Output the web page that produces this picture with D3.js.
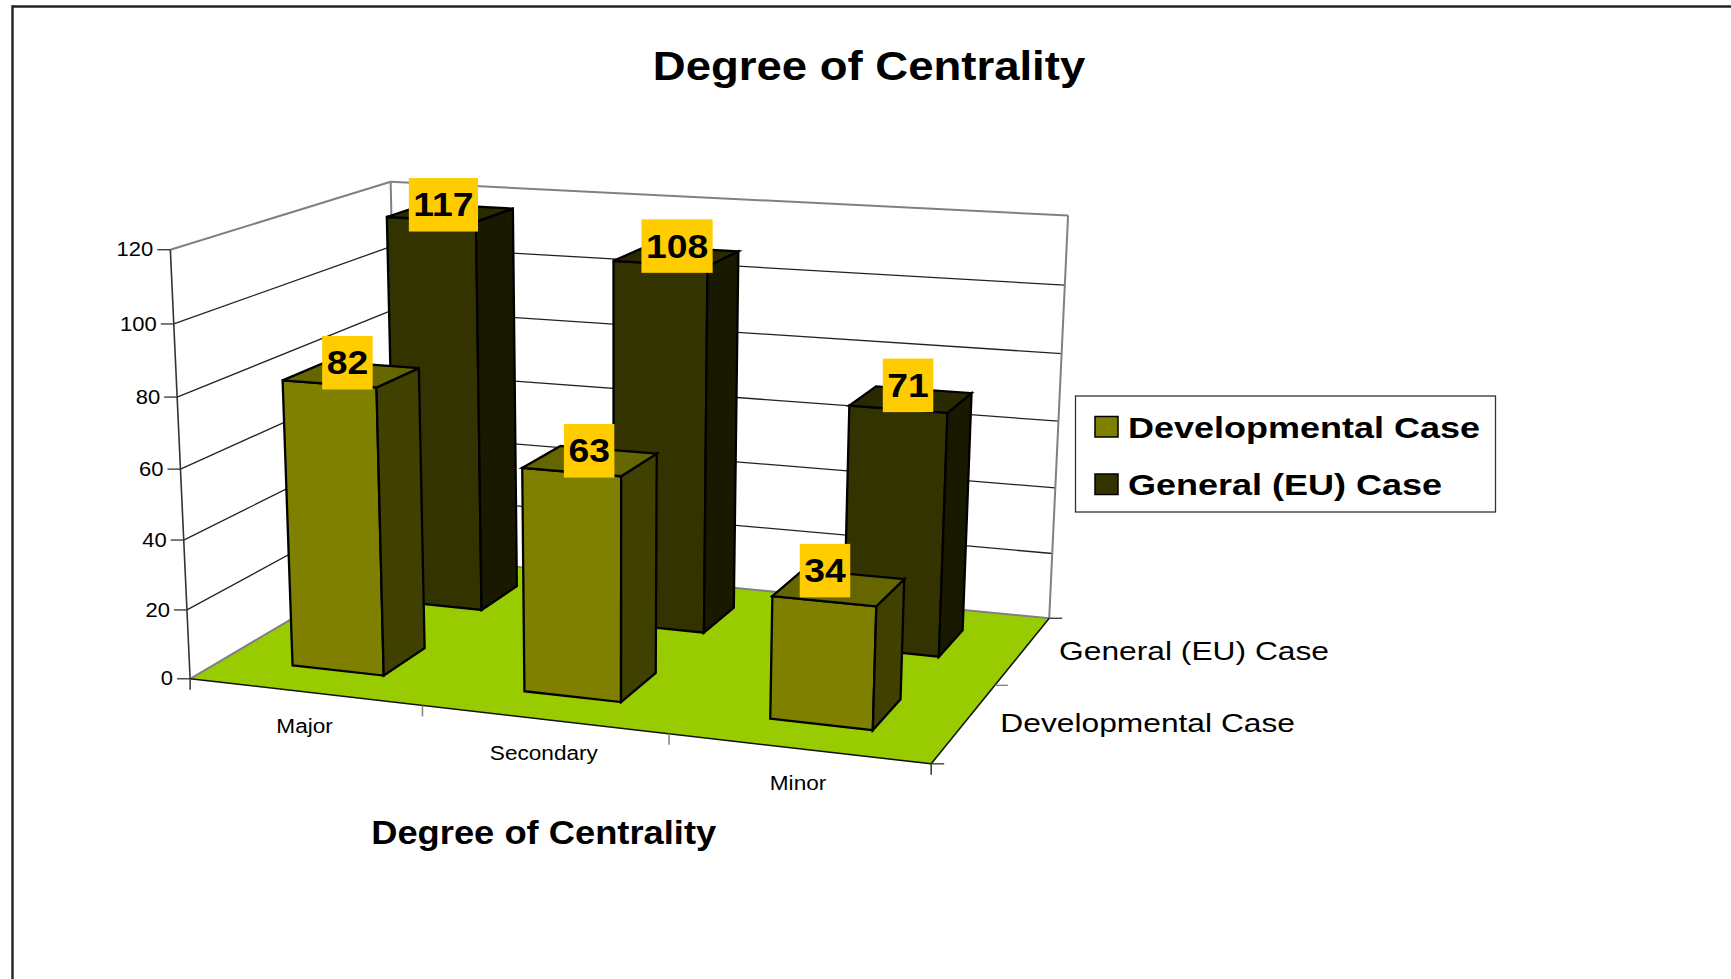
<!DOCTYPE html>
<html lang="en">
    <head>
        <meta charset="utf-8">
        <title>Degree of Centrality</title>
        <script type="text/javascript" src="https://cdnjs.cloudflare.com/ajax/libs/d3/7.8.5/d3.min.js"></script>
        <style type="text/css">
            body { margin: 0; background: #fff; }
            text { font-family: "Liberation Sans", Arial, sans-serif; fill: #000; }
        </style>
    </head>
    <body>
        <script type="text/javascript">
            var categories = ["Major", "Secondary", "Minor"];
            var seriesNames = ["Developmental Case", "General (EU) Case"];
            var developmental = [82, 63, 34];
            var general = [117, 108, 71];
            var valueTicks = [0, 20, 40, 60, 80, 100, 120];
            var titleText = "Degree of Centrality";

            var w = 1731;
            var h = 979;

            // corners of the plot box on the page: [u, v, w, x, y]
            var anchors = [
                [0, 0, 0, 190.7, 679],
                [1, 0, 0, 930.9, 764],
                [1, 1, 0, 1049.5, 618],
                [0, 1, 0, 398.7, 555.5],
                [0, 0, 1, 170, 249.3],
                [0, 1, 1, 391, 182],
                [1, 1, 1, 1068, 215.7]
            ];

            // fit a perspective matrix to the corners (least squares)
            function fitCamera(pts) {
                var rows = [], rhs = [];
                pts.forEach(function(p) {
                    var x = p[3] / 1000, y = p[4] / 1000;
                    rows.push([p[0], p[1], p[2], 1, 0, 0, 0, 0, -x * p[0], -x * p[1], -x * p[2]]);
                    rhs.push(x);
                    rows.push([0, 0, 0, 0, p[0], p[1], p[2], 1, -y * p[0], -y * p[1], -y * p[2]]);
                    rhs.push(y);
                });
                var n = 11, m = [];
                for (var i = 0; i < n; i++) {
                    m.push(new Array(n + 1).fill(0));
                    for (var j = 0; j < n; j++) {
                        rows.forEach(function(r) { m[i][j] += r[i] * r[j]; });
                    }
                    rows.forEach(function(r, k) { m[i][n] += r[i] * rhs[k]; });
                }
                for (var c = 0; c < n; c++) {
                    var best = c;
                    for (var r = c + 1; r < n; r++) {
                        if (Math.abs(m[r][c]) > Math.abs(m[best][c])) best = r;
                    }
                    var t = m[c]; m[c] = m[best]; m[best] = t;
                    for (var r2 = 0; r2 < n; r2++) {
                        if (r2 === c) continue;
                        var f = m[r2][c] / m[c][c];
                        for (var k2 = c; k2 <= n; k2++) m[r2][k2] -= f * m[c][k2];
                    }
                }
                return m.map(function(row, i) { return row[n] / row[i]; });
            }

            var cam = fitCamera(anchors);

            function project(u, v, z) {
                var d = cam[8] * u + cam[9] * v + cam[10] * z + 1;
                return [
                    1000 * (cam[0] * u + cam[1] * v + cam[2] * z + cam[3]) / d,
                    1000 * (cam[4] * u + cam[5] * v + cam[6] * z + cam[7]) / d
                ];
            }

            var xScale = d3.scaleBand().domain(categories).range([0, 1]).paddingInner(0.6).paddingOuter(0.3);
            var depthScale = d3.scaleBand().domain(seriesNames).range([0, 1]).paddingInner(0.6).paddingOuter(0.3);
            var yScale = d3.scaleLinear().domain([0, 120]).range([0, 1]);

            var path = d3.line();

            var svg = d3.select("body")
                        .append("svg")
                        .attr("width", w)
                        .attr("height", h)
                        .style("display", "block");

            function poly(pts, fill, stroke, sw) {
                svg.append("path")
                   .attr("d", path(pts.map(function(p) { return project(p[0], p[1], p[2]); })) + "Z")
                   .attr("fill", fill)
                   .attr("stroke", stroke)
                   .attr("stroke-width", sw)
                   .attr("stroke-linejoin", "miter");
            }

            function seg(a, b, stroke, sw) {
                svg.append("line")
                   .attr("x1", a[0]).attr("y1", a[1])
                   .attr("x2", b[0]).attr("y2", b[1])
                   .attr("stroke", stroke)
                   .attr("stroke-width", sw);
            }

            // text stretched sideways, the source image is a bit wider than tall
            function label(str, x, y, size, weight, anchor, k) {
                var t = svg.append("text")
                           .text(str)
                           .attr("x", x)
                           .attr("y", y)
                           .attr("font-size", size)
                           .attr("font-weight", weight)
                           .attr("text-anchor", anchor);
                var len = t.node().getComputedTextLength() * k;
                t.attr("textLength", len).attr("lengthAdjust", "spacingAndGlyphs");
                return len;
            }

            // page frame, runs off the right and bottom
            seg([12.5, 6.5], [w, 6.5], "#222", 2.4);
            seg([12.5, 5.3], [12.5, h], "#222", 2.4);

            label(titleText, 869, 79.5, 41, "bold", "middle", 1.11);

            // walls
            valueTicks.forEach(function(d) {
                var z = yScale(d);
                if (d === 0) return;
                var col = d === 120 ? "#808080" : "#222";
                var sw = d === 120 ? 2 : 1.3;
                seg(project(0, 0, z), project(0, 1, z), col, sw);
                seg(project(0, 1, z), project(1, 1, z), col, sw);
            });
            seg(project(0, 1, 0), project(0, 1, 1), "#808080", 2);
            seg(project(1, 1, 0), project(1, 1, 1), "#808080", 2);
            seg(project(0, 0, 0), project(0, 0, 1), "#333", 1.6);

            // floor
            poly([[0, 0, 0], [1, 0, 0], [1, 1, 0], [0, 1, 0]], "#99cc00", "none", 0);
            seg(project(0, 1, 0), project(1, 1, 0), "#808080", 2);
            seg(project(0, 0, 0), project(0, 1, 0), "#808080", 2);
            seg(project(0, 0, 0), project(1, 0, 0), "#111", 1.5);
            seg(project(1, 0, 0), project(1, 1, 0), "#111", 1.5);

            // value ticks
            valueTicks.forEach(function(d) {
                var p = project(0, 0, yScale(d));
                seg([p[0] - 13, p[1]], p, "#333", 1.3);
                label(d, p[0] - 17, p[1] + 6.7, 20, "normal", "end", 1.1);
            });

            // category ticks and labels
            [0, 1 / 3, 2 / 3, 1].forEach(function(u, i) {
                var p = project(u, 0, 0);
                seg(p, [p[0], p[1] + 11], i === 1 || i === 2 ? "#808080" : "#333", 1.5);
            });
            categories.forEach(function(c) {
                var p = project(xScale(c) + xScale.bandwidth() / 2, 0, 0);
                label(c, p[0], p[1] + 41, 20, "normal", "middle", 1.13);
            });

            // depth ticks and labels
            [0, 0.5, 1].forEach(function(v) {
                var p = project(1, v, 0);
                seg(p, [p[0] + 13, p[1]], v === 0.5 ? "#808080" : "#333", 1.3);
            });
            seriesNames.forEach(function(s) {
                var p = project(1, depthScale(s) + depthScale.bandwidth() / 2, 0);
                label(s, p[0] + 36, p[1] + 9.5, 25, "normal", "start", 1.27);
            });

            label(titleText, 543.7, 843.5, 33, "bold", "middle", 1.1);

            // bars, far series first so the near one paints over it
            var seriesValues = [general, developmental];
            var seriesOrder = [seriesNames[1], seriesNames[0]];
            var faces = [
                { front: "#333300", side: "#191900", top: "#2a2a00" },
                { front: "#808000", side: "#404000", top: "#666600" }
            ];
            var valueLabels = [];

            // the source's label boxes sit a little off the bar tops, one nudge per bar
            var boxNudge = [
                [[-7, -8], [0.5, -10], [-3, -14]],
                [[-4, -11.5], [-1, -10], [-14, -17]]
            ];

            seriesOrder.forEach(function(s, si) {
                seriesValues[si].forEach(function(val, ci) {
                    var u0 = xScale(categories[ci]);
                    var u1 = u0 + xScale.bandwidth();
                    var v0 = depthScale(s);
                    var v1 = v0 + depthScale.bandwidth();
                    var z = yScale(val);
                    var c = faces[si];
                    poly([[u0, v0, 0], [u1, v0, 0], [u1, v0, z], [u0, v0, z]], c.front, "#000", 2.3);
                    poly([[u1, v0, 0], [u1, v1, 0], [u1, v1, z], [u1, v0, z]], c.side, "#000", 2.3);
                    poly([[u0, v0, z], [u1, v0, z], [u1, v1, z], [u0, v1, z]], c.top, "#000", 2.3);
                    valueLabels.push({ val: val, at: project((u0 + u1) / 2, (v0 + v1) / 2, z), nudge: boxNudge[si][ci] });
                });
            });

            // yellow value boxes go on last
            valueLabels.forEach(function(d) {
                var cx = d.at[0] + d.nudge[0], cy = d.at[1] + d.nudge[1];
                var box = svg.append("rect").attr("fill", "#ffcc00");
                var len = label(d.val, cx, cy + 11.5, 33, "bold", "middle", 1.13);
                box.attr("x", cx - len / 2 - 4.5)
                   .attr("y", cy - 26.7)
                   .attr("width", len + 9)
                   .attr("height", 53.5);
            });

            // legend
            svg.append("rect")
               .attr("x", 1075.5).attr("y", 396)
               .attr("width", 420).attr("height", 116)
               .attr("fill", "#fff")
               .attr("stroke", "#333")
               .attr("stroke-width", 1.3);
            seriesNames.forEach(function(s, i) {
                var top = i === 0 ? 416.5 : 474;
                svg.append("rect")
                   .attr("x", 1095).attr("y", top)
                   .attr("width", 23).attr("height", 20.5)
                   .attr("fill", faces[i === 0 ? 1 : 0].front)
                   .attr("stroke", "#000")
                   .attr("stroke-width", 1.5);
                label(s, 1128, top + (i === 0 ? 21.5 : 20.5), 30, "bold", "start", 1.2);
            });
        </script>
    </body>
</html>
